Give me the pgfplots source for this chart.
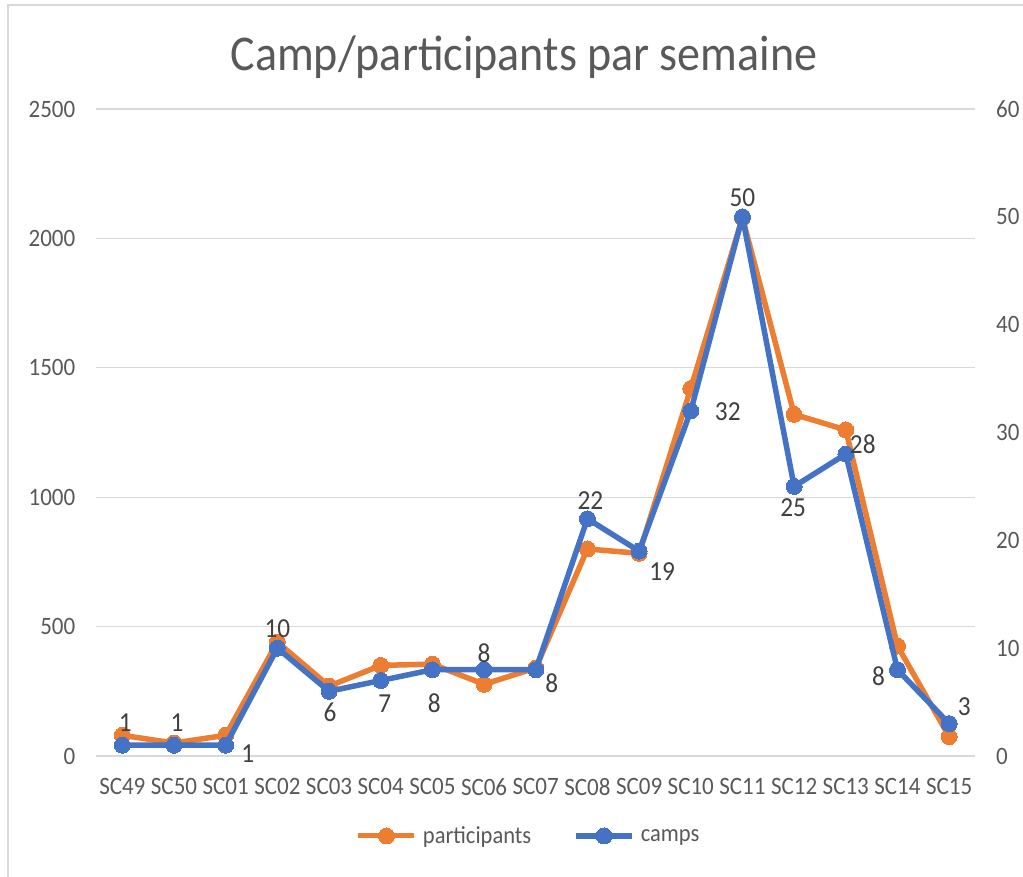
\documentclass[border=0pt]{standalone}
\usepackage{fontspec}
\setmainfont{Carlito}[FakeStretch=0.92]
\usepackage{pgfplots}
\pgfplotsset{compat=1.18}
\usepackage{pgfplotstable}

\definecolor{orng}{HTML}{ED7D31}
\definecolor{blu}{HTML}{4472C4}
\definecolor{grd}{HTML}{D9D9D9}
\definecolor{txt}{HTML}{595959}
\definecolor{lbl}{HTML}{404040}

\pgfplotstableread{
x part camps dx dy
0 80 1 3 23
1 50 1 3 23
2 80 1 22 -8
3 440 10 0 19
4 270 6 1 -21
5 350 7 4 -23
6 355 8 2 -33
7 277 8 0 17
8 340 8 16 -13
9 800 22 3 18
10 783 19 23 -20
11 1420 32 37 -1
12 2080 50 0 19
13 1320 25 -1 -21
14 1260 28 17 10
15 425 8 -19 -6
16 75 3 15 17
}\data

\pgfplotsset{
  base/.style={
    at={(96.5pt,121pt)}, anchor=south west,
    scale only axis, width=878.5pt, height=647pt,
    xmin=-0.5, xmax=16.5,
    axis line style={draw=none},
    major tick style={draw=none},
    major tick length=0pt,
    /pgf/number format/assume math mode=true,
    /pgf/number format/1000 sep={},
    tick label style={font=\fontsize{25}{29}\selectfont, text=txt, inner sep=0pt},
  },
  legend image code/.code={
    \draw[mark repeat=2,mark phase=2] plot coordinates {(0pt,0pt) (28pt,0pt) (56pt,0pt)};
  },
}

\begin{document}
\begin{tikzpicture}[x=1pt,y=1pt]
\path[use as bounding box] (0,0) rectangle (1023,877);
\draw[grd, line width=1.2pt] (8,0) -- (8,872) -- (1023,872);
\node[anchor=base, text=txt, font=\fontsize{50}{60}\selectfont] at (524,806) {Camp/participants par semaine};

\begin{axis}[base,
  ymin=0, ymax=2500, ytick={0,500,...,2500},
  ymajorgrids, grid style={grd, line width=1.3pt},
  xtick={0,...,16},
  xticklabels={SC49,SC50,SC01,SC02,SC03,SC04,SC05,SC06,SC07,SC08,SC09,SC10,SC11,SC12,SC13,SC14,SC15},
  xticklabel style={anchor=north, yshift=-22pt},
  yticklabel style={anchor=east, xshift=-21pt},
  clip=false,
]
\addplot[orng, line width=5.5pt, mark=*, mark size=8pt, mark options={line width=0pt}, line join=round] table[x=x, y=part] {\data};
\end{axis}

\begin{axis}[base,
  ymin=0, ymax=60, ytick={0,10,...,60},
  axis y line*=right, axis x line=none,
  yticklabel style={anchor=west, xshift=21pt},
  clip=false,
  legend style={draw=none, fill=none, at={(0.492,-0.1236)}, anchor=center,
    legend columns=2, font=\fontsize{24.5}{30}\selectfont, text=txt,
    /tikz/every even column/.append style={column sep=40pt},
    /tikz/every odd column/.append style={column sep=4pt},
    inner sep=0pt},
]
\addlegendimage{orng, line width=5pt, mark=*, mark size=8pt, mark options={line width=0pt}}
\addlegendentry{participants}
\addplot[blu, line width=5.5pt, mark=*, mark size=8pt, mark options={line width=0pt}, line join=round,
  nodes near coords, point meta=explicit,
  visualization depends on={\thisrow{dx} \as \dx},
  visualization depends on={\thisrow{dy} \as \dy},
  every node near coord/.append style={anchor=center, xshift=\dx pt, yshift=\dy pt,
    font=\fontsize{27.5}{32}\selectfont, text=lbl, inner sep=0pt},
] table[x=x, y=camps, meta=camps] {\data};
\addlegendentry{camps}
\end{axis}
\end{tikzpicture}
\end{document}
